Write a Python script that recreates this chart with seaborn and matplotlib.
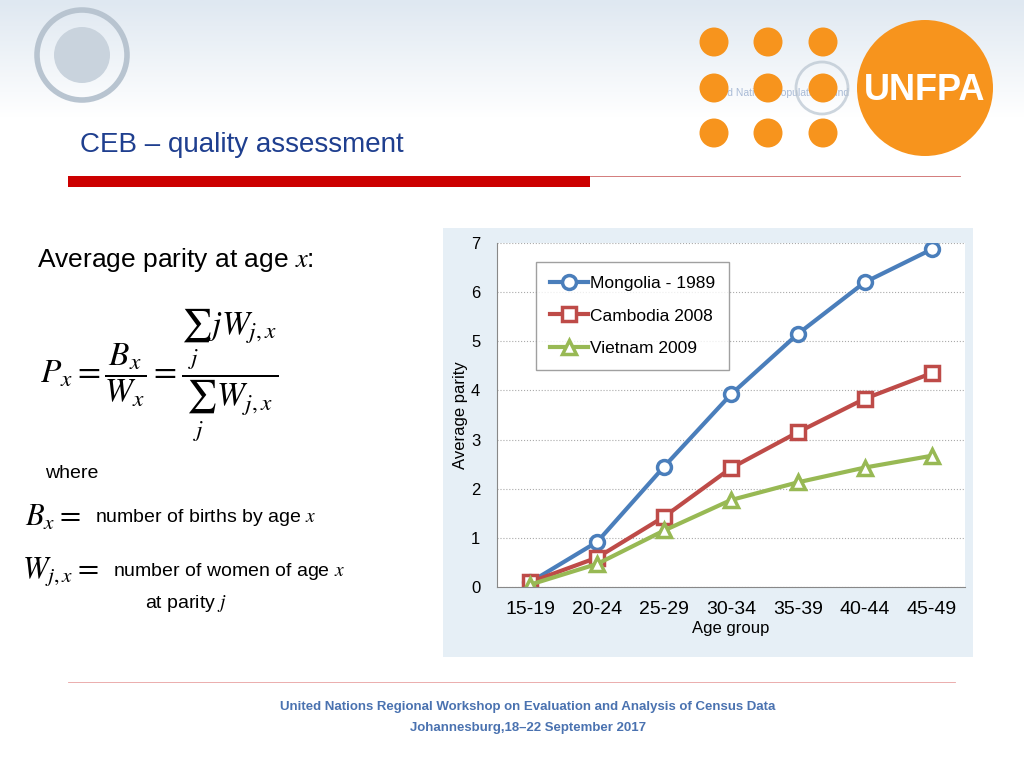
import matplotlib
matplotlib.use("Agg")
import matplotlib.pyplot as plt
import seaborn as sns
import pandas as pd
import numpy as np
from matplotlib.patches import Rectangle, Ellipse

age_groups = ["15-19", "20-24", "25-29", "30-34", "35-39", "40-44", "45-49"]
mongolia = [0.10, 0.92, 2.45, 3.92, 5.15, 6.20, 6.87]
cambodia = [0.10, 0.60, 1.43, 2.42, 3.15, 3.83, 4.35]
vietnam = [0.05, 0.47, 1.15, 1.77, 2.13, 2.43, 2.67]
series_names = ["Mongolia - 1989", "Cambodia 2008", "Vietnam 2009"]
colors = ["#4a7ebb", "#be4b48", "#98b954"]
markers = ["o", "s", "^"]

df = pd.DataFrame({"age": age_groups * 3,
                   "parity": mongolia + cambodia + vietnam,
                   "series": sum([[n] * 7 for n in series_names], [])})
df["xi"] = df["age"].map({a: i for i, a in enumerate(age_groups)})

plt.rcParams["font.family"] = "Liberation Sans"
plt.rcParams["mathtext.fontset"] = "stix"
fig = plt.figure(figsize=(10.24, 7.68), dpi=100)

def px(x, y):
    return x / 1024, 1 - y / 768

def circ(x, y, r, **kw):
    fig.patches.append(Ellipse(px(x, y), 2 * r / 1024, 2 * r / 768, transform=fig.transFigure, **kw))

# header band
hdr = fig.add_axes([0, 1 - 118 / 768, 1, 118 / 768], zorder=-5)
grad = np.linspace(1, 0, 100).reshape(-1, 1)
hdr.imshow(grad, aspect="auto", cmap=matplotlib.colors.LinearSegmentedColormap.from_list("g", ["#ffffff", "#dfe8f1"]),
           extent=[0, 1, 0, 1])
hdr.axis("off")
circ(82, 55, 45, fc="none", ec="#b8c4d0", lw=4)
circ(82, 55, 28, fc="#c9d3dd", ec="none")
circ(822, 88, 26, fc="none", ec="#b8c4d0", lw=2, alpha=0.7)
fig.text(*px(776, 93), "United Nations Population Fund", color="#5b7db1", fontsize=7.5, ha="center", va="center", alpha=0.5, zorder=-2)
for cx in (714, 768, 823):
    for cy in (42, 88, 133):
        circ(cx, cy, 14.5, fc="#f7941d", ec="none")
circ(925, 88, 68, fc="#f7941d", ec="none")
fig.text(*px(925, 90), "UNFPA", color="white", fontsize=26, fontweight="bold", ha="center", va="center")

fig.text(*px(80, 145), "CEB – quality assessment", color="#1f3f8f", fontsize=20, va="center")
fig.patches.append(Rectangle(px(68, 187), 522 / 1024, 11 / 768, transform=fig.transFigure, fc="#cc0000", ec="none"))
fig.lines.append(plt.Line2D([590 / 1024, 960 / 1024], [1 - 176 / 768] * 2, transform=fig.transFigure, color="#cc6666", lw=0.6))
fig.lines.append(plt.Line2D([68 / 1024, 955 / 1024], [1 - 682 / 768] * 2, transform=fig.transFigure, color="#e8a0a0", lw=0.6))

# left text
fig.text(*px(37, 260), "Average parity at age $\\mathit{x}$:", fontsize=19, va="center")
fig.text(*px(40, 375), r"$P_x = \dfrac{B_x}{W_x} = \dfrac{\sum_j\, jW_{j,x}}{\sum_j\, W_{j,x}}$", fontsize=24, va="center")
fig.text(*px(45, 474), "where", fontsize=14, va="center")
fig.text(*px(25, 518), r"$B_x =$", fontsize=22, va="center")
fig.text(*px(95, 518), "number of births by age $\\mathit{x}$", fontsize=14, va="center")
fig.text(*px(22, 572), r"$W_{j,x} =$", fontsize=22, va="center")
fig.text(*px(113, 572), "number of women of age $\\mathit{x}$", fontsize=14, va="center")
fig.text(*px(145, 603), "at parity $\\mathit{j}$", fontsize=14, va="center")

# chart panel
fig.patches.append(Rectangle(px(443, 657), 530 / 1024, 429 / 768, transform=fig.transFigure, fc="#e6eff6", ec="none", zorder=-1))
ax = fig.add_axes([497 / 1024, 1 - 587 / 768, 468 / 1024, 344 / 768])
ax.set_facecolor("#ffffff")
for name, c, m in zip(series_names, colors, markers):
    sub = df[df["series"] == name]
    sns.lineplot(data=sub, x="xi", y="parity", ax=ax, color=c, marker=m, markersize=10,
                 markerfacecolor="white", markeredgecolor=c, markeredgewidth=2.5, lw=3, label=name)
ax.set_xlim(-0.5, 6.5)
ax.set_ylim(0, 7)
ax.set_xticks(range(7))
ax.set_xticklabels(age_groups, fontsize=14)
ax.set_yticks(range(8))
ax.tick_params(axis="y", labelsize=12, length=0, pad=12)
ax.tick_params(axis="x", length=0, pad=10)
ax.set_xlabel("Age group", fontsize=12, labelpad=2)
ax.set_ylabel("Average parity", fontsize=12, labelpad=2)
ax.yaxis.grid(True, ls=":", color="#aaaaaa", lw=0.8)
for s in ax.spines.values():
    s.set_color("#888888")
ax.spines["top"].set_visible(False)
ax.spines["right"].set_visible(False)
ax.legend(loc="upper left", bbox_to_anchor=(0.065, 0.97), fontsize=12.5, frameon=True, fancybox=False,
          edgecolor="#888888", handlelength=2.2, borderpad=0.8, labelspacing=1.0, handletextpad=0.1)

fig.text(*px(528, 707), "United Nations Regional Workshop on Evaluation and Analysis of Census Data",
         color="#4a72b0", fontsize=9.5, fontweight="bold", ha="center", va="center")
fig.text(*px(528, 728), "Johannesburg,18–22 September 2017",
         color="#4a72b0", fontsize=9.5, fontweight="bold", ha="center", va="center")

fig.savefig("out.png", dpi=100)
